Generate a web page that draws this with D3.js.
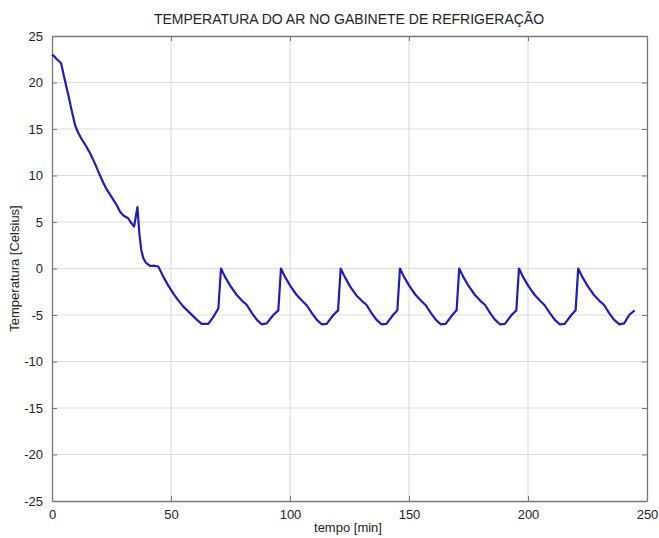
<!DOCTYPE html>
<html>
<head>
<meta charset="utf-8">
<script src="https://cdn.jsdelivr.net/npm/d3@7"></script>
<style>
  html, body { margin: 0; padding: 0; background: #fff; }
  svg text { font-family: "Liberation Sans", Arial, sans-serif; fill: #222; }
</style>
</head>
<body>
<svg id="chart" width="659" height="538"></svg>
<script>
// Cabinet air temperature over time (minutes, °C)
const tempo = [
  0, 1, 2, 3.8, 5, 6, 7, 8, 9.7, 11, 12.5, 14, 16, 18, 20, 21.6, 23, 25, 27, 28.6,
  30, 32, 33, 34.5, 35.9, 36.7, 37.5, 38.4, 39.5, 41.2, 43, 44.7, 46.8, 49, 51, 53,
  55.2, 58, 60.8, 62.9, 65.7, 67.8, 69.9,
  71, 72.7, 75, 77.6, 80, 81.8, 84, 86, 88.1, 90.2, 93, 95.1,
  96.2, 97.9, 100.2, 102.8, 105.2, 107, 109.2, 111.2, 113.3, 115.4, 118.2, 120.2,
  121.3, 123, 125.3, 127.9, 130.3, 132.1, 134.3, 136.3, 138.4, 140.5, 143.3, 145.1,
  146.2, 147.9, 150.2, 152.8, 155.2, 157, 159.2, 161.2, 163.3, 165.4, 168.2, 170,
  171.1, 172.8, 175.1, 177.7, 180.1, 181.9, 184.1, 186.1, 188.2, 190.3, 193.1, 195.1,
  196.2, 197.9, 200.2, 202.8, 205.2, 207, 209.2, 211.2, 213.3, 215.4, 218.2, 220,
  221.1, 222.8, 225.1, 227.7, 230.1, 231.9, 234.1, 236.1, 238.4, 240.4, 242.5, 244.8
];
const temperatura = [
  23.0, 22.8, 22.5, 22.1, 20.7, 19.6, 18.5, 17.3, 15.4, 14.6, 13.9, 13.3, 12.4, 11.3, 10.1, 9.2, 8.5, 7.7, 6.9, 6.1,
  5.7, 5.4, 5.0, 4.5, 6.6, 3.8, 2.0, 1.1, 0.6, 0.27, 0.3, 0.2, -0.9, -1.9, -2.7, -3.4,
  -4.1, -4.8, -5.5, -5.95, -5.95, -5.2, -4.3,
  0.0, -0.9, -1.9, -2.85, -3.5, -3.9, -4.8, -5.5, -6.0, -5.9, -5.0, -4.5,
  0.0, -0.9, -1.9, -2.85, -3.5, -3.95, -4.8, -5.5, -6.0, -5.95, -5.0, -4.5,
  0.0, -0.9, -1.95, -2.9, -3.5, -3.9, -4.8, -5.5, -6.0, -5.95, -5.0, -4.5,
  0.0, -0.9, -1.9, -2.85, -3.5, -3.95, -4.8, -5.5, -6.0, -5.95, -5.0, -4.5,
  0.0, -0.9, -1.9, -2.85, -3.5, -3.9, -4.8, -5.5, -6.0, -5.95, -5.0, -4.5,
  0.0, -0.9, -1.9, -2.85, -3.5, -3.95, -4.8, -5.5, -6.0, -5.95, -5.0, -4.5,
  0.0, -0.9, -1.9, -2.85, -3.5, -3.9, -4.8, -5.5, -6.0, -5.9, -5.0, -4.5
];
const xTicks = [0, 50, 100, 150, 200, 250];
const yTicks = [-25, -20, -15, -10, -5, 0, 5, 10, 15, 20, 25];

const svg = d3.select("#chart");
const margin = { left: 52, right: 12, top: 36, bottom: 37 };
const W = 659, H = 538;
const x = d3.scaleLinear().domain([0, 250]).range([margin.left, W - margin.right]);
const y = d3.scaleLinear().domain([-25, 25]).range([H - margin.bottom, margin.top]);
const plain = d => String(d);   // hyphen-minus labels

// grid
const grid = svg.append("g");
grid.selectAll("line.gx").data(xTicks.slice(1, -1)).join("line")
  .attr("x1", d => x(d)).attr("x2", d => x(d))
  .attr("y1", y(25)).attr("y2", y(-25))
  .attr("stroke", "#dedede").attr("stroke-width", 1.2);
grid.selectAll("line.gy").data(yTicks.slice(1, -1)).join("line")
  .attr("y1", d => y(d)).attr("y2", d => y(d))
  .attr("x1", x(0)).attr("x2", x(250))
  .attr("stroke", "#dedede").attr("stroke-width", 1.2);

// box axes with inward ticks
const axisColor = "#777";
const styleAxis = g => {
  g.select(".domain").attr("stroke", axisColor).attr("stroke-width", 1.3);
  g.selectAll(".tick line").attr("stroke", axisColor);
  g.selectAll(".tick text").attr("font-size", 13).attr("fill", "#222");
};
svg.append("g").attr("transform", `translate(0,${y(-25)})`)
  .call(d3.axisBottom(x).tickValues(xTicks).tickFormat(plain).tickSizeInner(-5).tickSizeOuter(0).tickPadding(9))
  .call(styleAxis);
svg.append("g").attr("transform", `translate(0,${y(25)})`)
  .call(d3.axisTop(x).tickValues(xTicks).tickSizeInner(-5).tickSizeOuter(0).tickFormat(""))
  .call(styleAxis);
svg.append("g").attr("transform", `translate(${x(0)},0)`)
  .call(d3.axisLeft(y).tickValues(yTicks).tickFormat(plain).tickSizeInner(-5).tickSizeOuter(0).tickPadding(9))
  .call(styleAxis);
svg.append("g").attr("transform", `translate(${x(250)},0)`)
  .call(d3.axisRight(y).tickValues(yTicks).tickSizeInner(-5).tickSizeOuter(0).tickFormat(""))
  .call(styleAxis);

// temperature curve
const pts = tempo.map((t, i) => [t, temperatura[i]]);
svg.append("path")
  .datum(pts)
  .attr("fill", "none")
  .attr("stroke", "#1c1cc0")
  .attr("stroke-width", 2.2)
  .attr("stroke-linejoin", "round")
  .attr("d", d3.line().x(d => x(d[0])).y(d => y(d[1])));

// labels
svg.append("text").attr("x", 349).attr("y", 24).attr("text-anchor", "middle")
  .attr("font-size", 14).text("TEMPERATURA DO AR NO GABINETE DE REFRIGERAÇÃO");
svg.append("text").attr("x", 348).attr("y", 532).attr("text-anchor", "middle")
  .attr("font-size", 13).text("tempo [min]");
svg.append("text").attr("transform", `translate(19,${y(0)}) rotate(-90)`)
  .attr("text-anchor", "middle").attr("font-size", 13).text("Temperatura [Celsius]");
</script>
</body>
</html>
